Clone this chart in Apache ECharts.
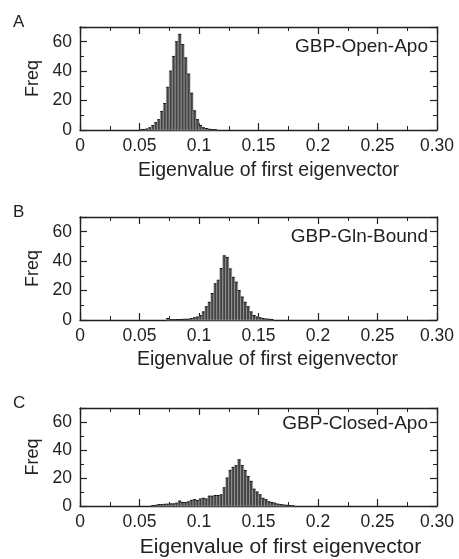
<!DOCTYPE html>
<html>
<head>
<meta charset="utf-8">
<script src="https://cdn.jsdelivr.net/npm/echarts/dist/echarts.min.js"></script>
<style>
  html, body { margin: 0; padding: 0; background: #fff; }
  #chart { width: 459px; height: 559px; }
</style>
</head>
<body>
<div id="chart"></div>
<script>
// histogram bins: width 0.0025, first bin start per panel
var binWidth = 0.0025
var startA = 0.050
var startB = 0.0725
var startC = 0.060
var freqA = [0.2, 0.3, 0.7, 1.5, 3, 5, 7, 12.6, 18, 29, 40, 50, 60, 65, 58, 49, 38, 25, 13, 7, 3, 1.5, 1, 0.5, 0.3, 0.2]
var freqB = [1, 0.2, 0.2, 0.3, 0.3, 0.4, 0.5, 0.5, 1, 1.5, 2, 3, 5.5, 9, 12, 18, 24.6, 27, 35, 43.6, 42.5, 34.7, 29, 25.7, 20, 15.6, 12, 9, 5.5, 3, 2, 1.5, 1, 0.7, 0.5, 0.3]
var freqC = [0.3, 0.5, 1, 1, 1.2, 1.3, 1.5, 1.5, 2, 3.5, 2.5, 2.5, 3, 4, 4.5, 4, 5, 5.5, 5, 7, 7, 7.5, 7.5, 8, 13, 20, 25.4, 27.6, 28.8, 33, 28.8, 25.4, 21, 17.6, 12, 10, 8, 5.5, 4.5, 3, 2.5, 2, 1.3, 1, 0.7, 0.5, 0.3, 0.2]
var panelNames = ['GBP-Open-Apo', 'GBP-Gln-Bound', 'GBP-Closed-Apo']
var panelLetters = ['A', 'B', 'C']
var xTicks = [0, 0.05, 0.1, 0.15, 0.2, 0.25, 0.3]
var xTickLabels = ['0', '0.05', '0.1', '0.15', '0.2', '0.25', '0.30']
var yTicks = [0, 20, 40, 60]

var font = 'Liberation Sans, Arial, sans-serif'
var ink = '#222'

function toBins(start, freq) {
  var out = []
  for (var i = 0; i < freq.length; i++) {
    var s = start + i * binWidth
    out.push([s, s + binWidth, freq[i]])
  }
  return out
}

function renderBin(params, api) {
  var p0 = api.coord([api.value(0), api.value(2)])
  var p1 = api.coord([api.value(1), 0])
  return {
    type: 'group',
    children: [{
      type: 'rect',
      shape: { x: p0[0], y: p0[1], width: p1[0] - p0[0], height: p1[1] - p0[1] },
      style: { fill: '#434343', stroke: '#a8a8a8', lineWidth: 0.6 }
    }, {
      type: 'line',
      shape: { x1: p0[0], y1: p0[1], x2: p1[0], y2: p0[1] },
      style: { stroke: '#111', lineWidth: 1 }
    }]
  }
}

function xLabel(v) {
  for (var i = 0; i < xTicks.length; i++) {
    if (Math.abs(v - xTicks[i]) < 1e-9) return xTickLabels[i]
  }
  return ''
}

var grids = [
  { left: 80, top: 27, width: 357, height: 103 },
  { left: 80, top: 217, width: 357, height: 103 },
  { left: 80, top: 408, width: 357, height: 104 }
]
var nameFont = [19.5, 19.5, 21]
var nameGap = [31, 30, 31]
var nameShift = [20, 18, 44]
var labelDy = [21, 21, 17]

var xAxes = [], yAxes = [], series = [], graphics = []
var datas = [toBins(startA, freqA), toBins(startB, freqB), toBins(startC, freqC)]

grids.forEach(function (g, i) {
  var common = {
    gridIndex: i,
    axisLine: { show: true, onZero: false, lineStyle: { color: ink, width: 1.4 } },
    axisTick: { show: true, inside: true, length: 7, lineStyle: { color: ink, width: 1.2 } },
    minorTick: { show: true, splitNumber: 2, length: 4, lineStyle: { color: ink, width: 1 } },
    splitLine: { show: false }
  }
  xAxes.push(Object.assign({}, common, {
    type: 'value', position: 'bottom', min: 0, max: 0.3, interval: 0.05,
    axisLabel: { show: true, formatter: xLabel, color: ink, fontFamily: font, fontSize: 17.5, margin: 7 },
    name: 'Eigenvalue of first eigenvector', nameLocation: 'middle', nameGap: nameGap[i],
    nameTextStyle: { color: ink, fontFamily: font, fontSize: nameFont[i], padding: [0, 0, 0, nameShift[i]] }
  }))
  xAxes.push(Object.assign({}, common, {
    type: 'value', position: 'top', min: 0, max: 0.3, interval: 0.05,
    axisLabel: { show: false }
  }))
  yAxes.push(Object.assign({}, common, {
    type: 'value', position: 'left', min: 0, max: 70, interval: 20,
    axisLabel: {
      show: true, color: ink, fontFamily: font, fontSize: 17.5, margin: 8,
      formatter: function (v) { return yTicks.indexOf(v) >= 0 ? String(v) : '' }
    },
    name: 'Freq', nameLocation: 'middle', nameGap: 37,
    nameTextStyle: { color: ink, fontFamily: font, fontSize: 18 }
  }))
  yAxes.push(Object.assign({}, common, {
    type: 'value', position: 'right', min: 0, max: 70, interval: 20,
    axisLabel: { show: false }
  }))
  series.push({
    type: 'custom',
    xAxisIndex: i * 2,
    yAxisIndex: i * 2,
    renderItem: renderBin,
    encode: { x: [0, 1], y: 2 },
    data: datas[i],
    silent: true,
    z: 1
  })
  graphics.push({
    type: 'text', left: 13, top: g.top - 13,
    style: { text: panelLetters[i], fill: ink, font: '17px ' + font }
  })
  graphics.push({
    type: 'text', right: 459 - 428, top: g.top + labelDy[i] - 11,
    style: { text: panelNames[i], fill: ink, font: '19px ' + font }
  })
})

var myChart = echarts.init(document.getElementById('chart'))
myChart.setOption({
  animation: false,
  grid: grids,
  xAxis: xAxes,
  yAxis: yAxes,
  series: series,
  graphic: graphics
})
</script>
</body>
</html>
